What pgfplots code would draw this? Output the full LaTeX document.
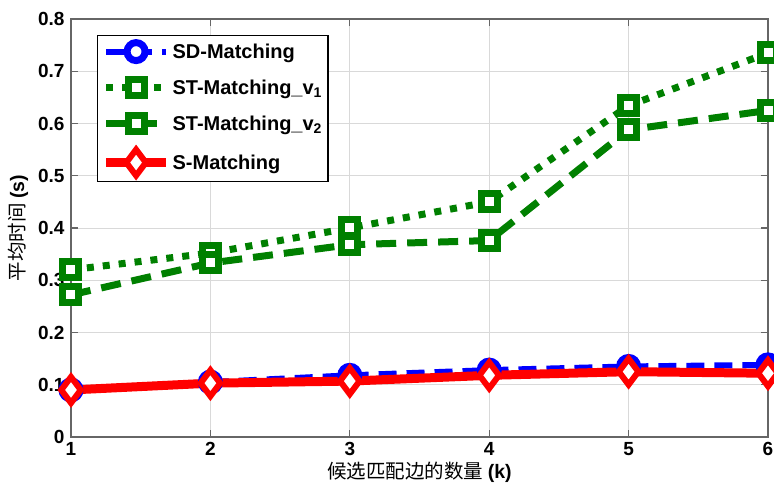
\documentclass[border=0pt]{standalone}
\usepackage{pgfplots}
\pgfplotsset{compat=1.18}
\usepackage{fontspec}
\setmainfont{Liberation Sans}
\newfontfamily\cjk{Noto Sans CJK SC}
\definecolor{mgreen}{rgb}{0,0.5,0}
\begin{document}
\begin{tikzpicture}
\begin{axis}[
  width=697pt, height=418pt, scale only axis,
  xmin=1, xmax=6, ymin=0, ymax=0.8,
  xtick={1,2,3,4,5,6},
  ytick={0,0.1,0.2,0.3,0.4,0.5,0.6,0.7,0.8},
  yticklabels={0,0.1,0.2,0.3,0.4,0.5,0.6,0.7,0.8},
  grid=major, grid style={black!15, line width=0.8pt},
  axis line style={black!60, line width=1.2pt},
  tick style={black!60, line width=1.2pt},
  tick align=inside, major tick length=7pt,
  /pgf/number format/assume math mode=true,
  ticklabel style={font=\bfseries\fontsize{19}{19}\selectfont},
  xticklabel style={yshift=-2pt},
  yticklabel style={xshift=-3pt},
  xlabel={\cjk 候选匹配边的数量 \rmfamily\bfseries(k)},
  ylabel={\cjk 平均时间 \rmfamily\bfseries(s)},
  xlabel style={at={(axis description cs:0.5,0)}, anchor=center, yshift=-35pt, font=\fontsize{19.5}{19.5}\selectfont},
  ylabel style={at={(axis description cs:0,0.5)}, anchor=center, yshift=53pt, font=\fontsize{19.5}{19.5}\selectfont},
  legend style={at={(rel axis cs:0.0373,0.9617)}, anchor=north west,
    draw=black, line width=1.2pt, fill=white,
    font=\bfseries\fontsize{20}{20}\selectfont,
    row sep=16pt, inner xsep=4pt, inner ysep=6pt},
  legend cell align=left,
  legend image code/.code={\draw[mark repeat=2,mark phase=2] plot coordinates {(0pt,0pt) (30pt,0pt) (60pt,0pt)};},
]
\addplot[blue, line width=6pt, dash pattern=on 18pt off 10pt, mark=*, mark size=9pt,
  mark options={solid, line width=7pt, draw=blue, fill=white}]
  coordinates {(1,0.090) (2,0.105) (3,0.118) (4,0.128) (5,0.135) (6,0.138)};
\addlegendentry{SD-Matching}
\addplot[mgreen, line width=7pt, dash pattern=on 7pt off 9pt, mark=square*, mark size=8pt,
  mark options={solid, line width=7pt, draw=mgreen, fill=white}]
  coordinates {(1,0.320) (2,0.352) (3,0.400) (4,0.450) (5,0.634) (6,0.735)};
\addlegendentry{ST-Matching\_v\textsubscript{1}}
\addplot[mgreen, line width=7pt, dash pattern=on 20pt off 11pt, mark=square*, mark size=8pt,
  mark options={solid, line width=7pt, draw=mgreen, fill=white}]
  coordinates {(1,0.272) (2,0.333) (3,0.368) (4,0.376) (5,0.588) (6,0.625)};
\addlegendentry{ST-Matching\_v\textsubscript{2}}
\addplot[red, line width=9pt, mark=diamond*, mark size=13pt,
  mark options={solid, line width=6pt, draw=red, fill=white}]
  coordinates {(1,0.090) (2,0.103) (3,0.107) (4,0.118) (5,0.125) (6,0.122)};
\addlegendentry{S-Matching}
\end{axis}
\pgfresetboundingbox
\path ([shift={(-71pt,-47pt)}]current axis.south west) rectangle ([shift={(6pt,19pt)}]current axis.north east);
\end{tikzpicture}
\end{document}
